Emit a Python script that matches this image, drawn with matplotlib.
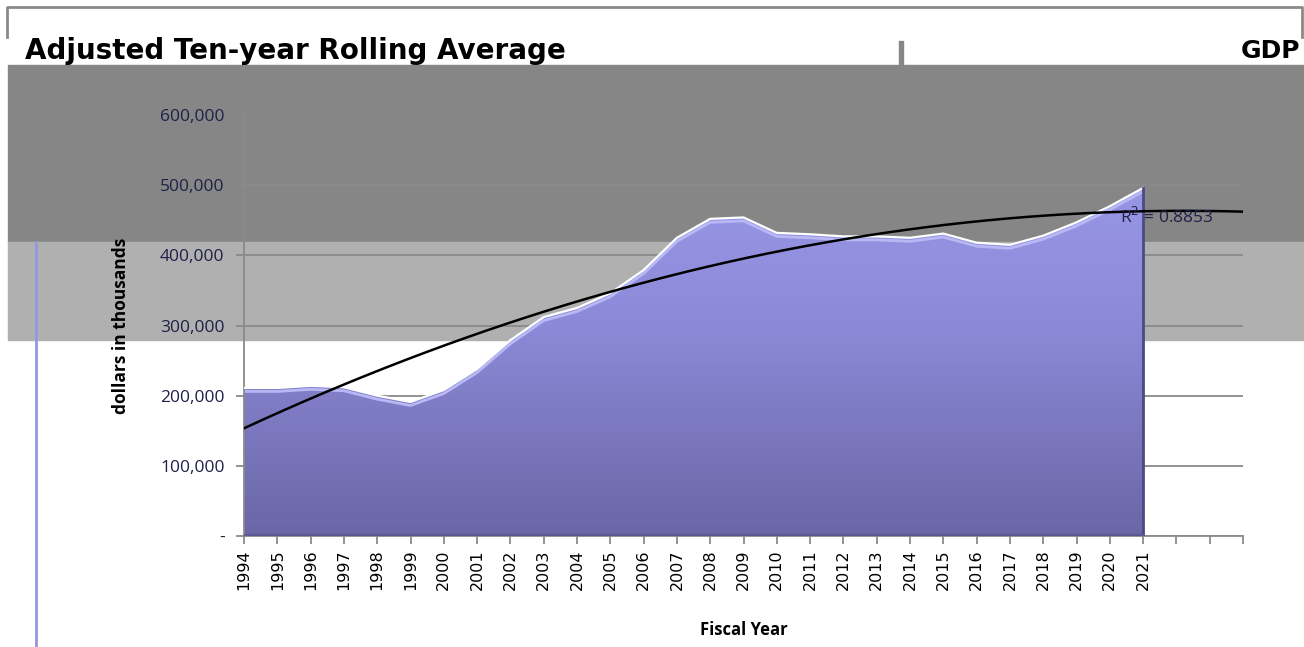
import numpy as np
import matplotlib
matplotlib.use('Agg')
import matplotlib.pyplot as plt
import matplotlib.ticker as ticker
from matplotlib.patches import Rectangle
from matplotlib.lines import Line2D

# data (dollars in thousands)
years = [str(y) for y in range(1994, 2022)]
values = [211000, 211000, 214000, 212000, 200000, 191000, 208000, 238000,
          279000, 312000, 325000, 346000, 379000, 425000, 452000, 454000,
          432000, 430000, 427000, 427000, 425000, 431000, 418000, 415000,
          428000, 447000, 470000, 496000]
extra_slots = 3          # empty category slots after 2021
r2_text = 'R$^2$ = 0.8853'

W, H = 1304, 647
fig = plt.figure(figsize=(W / 100, H / 100), dpi=100)

def px(x, y):
    return x / W, 1 - y / H

# background bands / frame as seen in the picture
fig.patches.append(Rectangle(px(8, 242), (W - 8) / W, (242 - 65) / H,
                             transform=fig.transFigure, color='#868686', zorder=-5))
fig.patches.append(Rectangle(px(8, 340), (W - 8) / W, (340 - 242) / H,
                             transform=fig.transFigure, color='#b0b0b0', zorder=-5))
fig.patches.append(Rectangle(px(899, 64), 4 / W, 23 / H,
                             transform=fig.transFigure, color='#868686', zorder=-5))
fig.lines.append(Line2D([7 / W, 7 / W, 1302 / W, 1302 / W],
                        [1 - 37 / H, 1 - 7 / H, 1 - 7 / H, 1 - 37 / H],
                        transform=fig.transFigure, color='#8a8a8a', lw=2, zorder=-5))
fig.lines.append(Line2D([36 / W, 36 / W], [1 - 242 / H, 0],
                        transform=fig.transFigure, color='#9595e0', lw=2, zorder=-4))

ax = fig.add_axes([244 / W, 111 / H, 999 / W, 421 / H])
ax.set_facecolor('none')

n = len(values)
x = np.arange(n)
y = np.array(values, dtype=float)

# gradient filled area
poly = ax.fill_between(x, 0, y, color='none', lw=0)
grad = np.linspace(0, 1, 256).reshape(-1, 1)
cmap = matplotlib.colors.LinearSegmentedColormap.from_list('g', ['#6a66a6', '#8c8ad8', '#9d9ced'])
img = ax.imshow(grad, cmap=cmap, origin='lower', aspect='auto',
                extent=[0, n - 1, 0, 600000], zorder=2)
img.set_clip_path(poly.get_paths()[0], transform=ax.transData)
ax.plot(x, y, color='white', lw=1.6, zorder=3)
ax.plot(x, y - 5000, color='#b8b8f5', lw=2.0, zorder=2.5)
ax.plot([n - 1, n - 1], [0, y[-1]], color='#4b4a82', lw=2, zorder=3)
ax.plot([0, n - 1], [1500, 1500], color='#5a5890', lw=2, zorder=3)

# polynomial (order 2) trendline, forward 3 periods
coef = np.polyfit(x, y, 2)
xt = np.linspace(0, n - 1 + extra_slots, 200)
ax.plot(xt, np.polyval(coef, xt), color='black', lw=1.8, zorder=4)

ax.set_xlim(0, n - 1 + extra_slots)
ax.set_ylim(0, 600000)
ax.set_xticks(np.arange(n + extra_slots))
ax.set_xticklabels(years + [''] * extra_slots, rotation=90,
                   fontsize=11.5, family='DejaVu Sans', color='black')
ax.yaxis.set_major_locator(ticker.MultipleLocator(100000))
ax.yaxis.set_major_formatter(ticker.FuncFormatter(
    lambda v, p: '-' if v == 0 else f'{int(v):,}'))
for lab in ax.get_yticklabels():
    lab.set_fontsize(12.5)
    lab.set_family('Open Sans')
    lab.set_color('#202048')

ax.grid(axis='y', color='#8a8a8a', lw=1.3, zorder=1)
ax.set_axisbelow(True)
for s in ['top', 'right']:
    ax.spines[s].set_visible(False)
for s in ['left', 'bottom']:
    ax.spines[s].set_color('#8a8a8a')
    ax.spines[s].set_linewidth(1.3)
ax.tick_params(axis='both', direction='out', length=6, color='#8a8a8a', width=1.3)
ax.tick_params(axis='y', pad=8)

ax.set_ylabel('dollars in thousands', fontsize=12.5, fontweight='bold', family='Open Sans')
ax.yaxis.set_label_coords(-0.114, 0.5)
ax.set_xlabel('Fiscal Year', fontsize=12, fontweight='bold', family='Open Sans')
ax.xaxis.set_label_coords(0.5, -0.202)

fig.text(*px(1120, 217), r2_text, fontsize=12.5, family='Open Sans',
         color='#202048', va='center', ha='left', zorder=5)
fig.text(*px(25, 51), 'Adjusted Ten-year Rolling Average', fontsize=20,
         fontweight='bold', family='DejaVu Sans', va='center', ha='left')
fig.text(*px(1300, 51), 'GDP', fontsize=18, fontweight='bold',
         family='DejaVu Sans', va='center', ha='right')

fig.savefig('out.png', dpi=100)
